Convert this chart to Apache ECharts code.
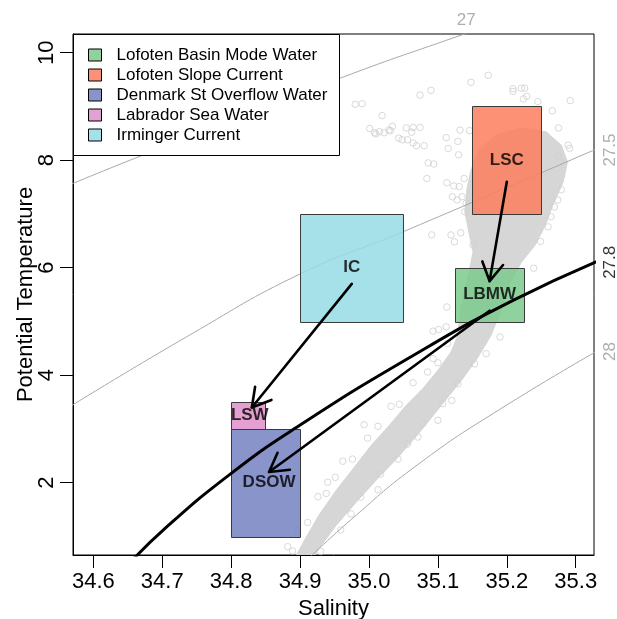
<!DOCTYPE html>
<html>
<head>
<meta charset="utf-8">
<script src="https://cdn.jsdelivr.net/npm/echarts@6/dist/echarts.min.js"></script>
<style>
  html, body { margin: 0; padding: 0; background: #fff; }
  #chart { width: 617px; height: 619px; }
</style>
</head>
<body>
<div id="chart"></div>
<script>
// ---- Data: salinity / potential temperature ----

// Outline of the dense cloud of CTD samples
const profileCore = [
  [34.895, 0.66], [34.906, 0.92], [34.927, 1.39], [34.952, 1.85], [34.977, 2.26],
  [35.003, 2.69], [35.029, 3.06], [35.054, 3.44], [35.078, 3.75], [35.100, 4.09],
  [35.119, 4.43], [35.129, 4.74], [35.132, 5.12], [35.137, 5.49], [35.145, 5.92],
  [35.151, 6.29], [35.145, 6.66], [35.139, 7.04], [35.142, 7.45], [35.148, 7.82],
  [35.160, 8.19], [35.184, 8.47], [35.221, 8.60], [35.257, 8.53], [35.279, 8.28],
  [35.288, 7.97], [35.282, 7.60], [35.267, 7.17], [35.256, 6.79], [35.241, 6.42],
  [35.221, 6.10], [35.203, 5.67], [35.192, 5.21], [35.177, 4.74], [35.157, 4.31],
  [35.134, 3.90], [35.105, 3.44], [35.073, 2.93], [35.044, 2.50], [35.010, 2.04],
  [34.981, 1.63], [34.952, 1.20], [34.927, 0.77], [34.922, 0.66]
];

// Individual samples around the edges of the cloud
const profilePoints = [
  [34.980, 9.04], [34.990, 9.05], [35.019, 8.83], [35.074, 9.21], [35.090, 9.30],
  [35.148, 9.45], [35.173, 9.58], [35.001, 8.59], [35.008, 8.51], [35.010, 8.49],
  [35.015, 8.53], [35.022, 8.51], [35.029, 8.56], [35.034, 8.63], [35.031, 8.55],
  [35.054, 8.60], [35.064, 8.61], [35.074, 8.61], [35.062, 8.52], [35.043, 8.41],
  [35.048, 8.38], [35.056, 8.38], [35.064, 8.32], [35.069, 8.27], [35.080, 8.27],
  [35.086, 7.95], [35.094, 7.93], [35.084, 7.66], [35.112, 8.42], [35.115, 8.22],
  [35.129, 8.35], [35.130, 8.10], [35.132, 8.56], [35.146, 8.55], [35.113, 7.58],
  [35.123, 7.52], [35.131, 7.51], [35.138, 7.66], [35.121, 7.32], [35.128, 7.26],
  [35.135, 7.32], [35.141, 7.20], [35.139, 7.04], [35.209, 9.33], [35.209, 9.28],
  [35.221, 9.34], [35.226, 9.34], [35.224, 9.14], [35.229, 9.19], [35.245, 9.09],
  [35.266, 8.92], [35.292, 9.11], [35.275, 8.60], [35.289, 8.28], [35.091, 6.61],
  [35.119, 6.61], [35.133, 6.65], [35.124, 6.48], [35.151, 6.42], [35.249, 6.49],
  [35.239, 5.99], [35.113, 5.27], [35.093, 4.82], [35.101, 4.85], [35.112, 4.90],
  [35.291, 8.22], [35.274, 8.07], [35.279, 7.45], [35.274, 7.26], [35.269, 7.13],
  [35.264, 6.95], [35.260, 6.76],
  [34.882, 0.81], [34.889, 0.73], [34.896, 1.11], [34.911, 1.26], [34.926, 1.74],
  [34.938, 1.80], [34.940, 2.01], [34.951, 2.10], [34.962, 2.40], [34.976, 2.44],
  [34.993, 3.08], [34.998, 2.83], [35.013, 3.05], [35.032, 3.42], [35.044, 3.46],
  [35.064, 3.86], [35.085, 4.06], [35.093, 4.31], [35.100, 4.23], [35.114, 4.59],
  [34.930, 0.72], [34.959, 1.12], [34.974, 1.42], [34.988, 1.73], [35.013, 1.87],
  [35.017, 2.16], [35.042, 2.44], [35.056, 2.72], [35.071, 2.85], [35.100, 3.16],
  [35.107, 3.47], [35.129, 3.84], [35.153, 4.21], [35.170, 4.40], [35.190, 4.71],
  [35.120, 3.53], [35.078, 3.10]
];

// Potential density (sigma-theta) contours
const sigma27   = [[34.55, 7.46], [34.669, 8.08], [34.959, 9.53], [35.141, 10.36], [35.20, 10.62]];
const sigma275  = [[34.55, 3.29], [34.7415, 4.76], [34.901, 5.89], [35.046, 6.65], [35.35, 8.32]];
const sigma278  = [[34.648, 0.44], [34.7033, 1.14], [34.7996, 2.17], [34.895, 3.03], [35.0566, 4.31], [35.2105, 5.40], [35.35, 6.22]];
const sigma28   = [[34.90, 0.44], [34.9738, 1.31], [35.0711, 2.34], [35.1917, 3.38], [35.35, 4.59]];

const contourNames = ['27', '27.5', '27.8', '28'];
const contourLabelS = [35.141, 35.35, 35.35, 35.35];
const contourLabelT = [10.61, 8.19, 6.10, 4.44];

// Water-mass boxes: salinity range and temperature range
const massNames = ['Lofoten Basin Mode Water', 'Lofoten Slope Current', 'Denmark St Overflow Water', 'Labrador Sea Water', 'Irminger Current'];
const massAbbr  = ['LBMW', 'LSC', 'DSOW', 'LSW', 'IC'];
const massSmin  = [35.125, 35.15, 34.80, 34.80, 34.90];
const massSmax  = [35.225, 35.25, 34.90, 34.85, 35.05];
const massTmin  = [5.0, 7.0, 1.0, 3.0, 5.0];
const massTmax  = [6.0, 9.0, 3.0, 3.5, 7.0];
const massLabelS = [35.175, 35.20, 34.855, 34.827, 34.975];
const massLabelT = [5.50, 8.00, 2.00, 3.26, 6.00];

// Pathways: from (S, T) to (S, T)
const pathways = [
  [35.200, 7.60, 35.175, 5.75],
  [34.975, 5.70, 34.830, 3.40],
  [35.175, 5.20, 34.855, 2.20]
];

const xTicks = [34.6, 34.7, 34.8, 34.9, 35.0, 35.1, 35.2, 35.3];
const yTicks = [2, 4, 6, 8, 10];

// ---- Styles ----
const FONT = '"Liberation Sans", Arial, Helvetica, sans-serif';
const massColors = [
  'rgba(123,202,141,0.85)',
  'rgba(252,126,93,0.85)',
  'rgba(116,129,194,0.85)',
  'rgba(223,143,200,0.85)',
  'rgba(150,220,230,0.85)'
];
const cloudGray = '#d6d6d6';
const contourGray = '#a9a9a9';

const chart = echarts.init(document.getElementById('chart'), null, { renderer: 'canvas' });

function renderCore(params, api) {
  if (params.dataIndex !== 0) return null;
  const pts = profileCore.map(p => api.coord(p));
  return { type: 'polygon', shape: { points: pts }, style: { fill: cloudGray, stroke: cloudGray, lineWidth: 1 } };
}

function renderBox(params, api) {
  const tl = api.coord([api.value(0), api.value(3)]);
  const br = api.coord([api.value(1), api.value(2)]);
  return {
    type: 'rect',
    shape: { x: Math.round(tl[0]) + 0.5, y: Math.round(tl[1]) + 0.5,
             width: Math.round(br[0] - tl[0]), height: Math.round(br[1] - tl[1]) },
    style: { fill: api.visual('color'), stroke: '#3a3a3a', lineWidth: 1 }
  };
}

function renderArrow(params, api) {
  const a = api.coord([api.value(0), api.value(1)]);
  const b = api.coord([api.value(2), api.value(3)]);
  const ang = Math.atan2(b[1] - a[1], b[0] - a[0]);
  const L = 21, spread = Math.PI / 6;
  const w1 = [b[0] - L * Math.cos(ang - spread), b[1] - L * Math.sin(ang - spread)];
  const w2 = [b[0] - L * Math.cos(ang + spread), b[1] - L * Math.sin(ang + spread)];
  const st = { stroke: '#000', lineWidth: 2.6, fill: 'none', lineCap: 'round', lineJoin: 'round' };
  return {
    type: 'group',
    children: [
      { type: 'line', shape: { x1: a[0], y1: a[1], x2: b[0], y2: b[1] }, style: st },
      { type: 'polyline', shape: { points: [w1, b, w2] }, style: st }
    ]
  };
}

function contourLine(name, data, color, width, z) {
  return {
    type: 'line', name: name, data: data, z: z,
    showSymbol: false, symbol: 'none', smooth: 0.5,
    lineStyle: { color: color, width: width }, silent: true, clip: true
  };
}

const boxSeries = massNames.map((name, i) => ({
  type: 'custom',
  name: name,
  z: 4,
  renderItem: renderBox,
  itemStyle: { color: massColors[i] },
  encode: { x: [0, 1], y: [2, 3] },
  data: [[massSmin[i], massSmax[i], massTmin[i], massTmax[i]]],
  silent: true
}));

const contourLabelData = contourNames.map((n, i) => ({
  value: [contourLabelS[i], contourLabelT[i]],
  name: n,
  label: {
    rotate: i === 0 ? 0 : 90,
    color: n === '27.8' ? '#000' : '#9a9a9a'
  }
}));

const option = {
  animation: false,
  backgroundColor: '#fff',
  textStyle: { fontFamily: FONT },
  grid: {
    left: 73, right: 23, top: 34, bottom: 64,
    containLabel: false, outerBoundsMode: 'none',
    show: true, borderColor: '#000', borderWidth: 1, backgroundColor: 'transparent'
  },
  xAxis: {
    type: 'value', min: 34.5705, max: 35.3265,
    name: 'Salinity', nameLocation: 'middle', nameGap: 43,
    nameTextStyle: { fontSize: 22, color: '#000', fontFamily: FONT },
    splitLine: { show: false },
    axisLine: { show: true, onZero: false, lineStyle: { color: '#000', width: 1 } },
    axisTick: { show: true, customValues: xTicks, length: 13, lineStyle: { color: '#000', width: 1 } },
    axisLabel: { customValues: xTicks, formatter: v => v.toFixed(1), fontSize: 22, color: '#000', margin: 16, fontFamily: FONT }
  },
  yAxis: {
    type: 'value', min: 0.655, max: 10.348,
    name: 'Potential Temperature', nameLocation: 'middle', nameGap: 36, nameRotate: 90,
    nameMoveOverlap: false,
    nameTextStyle: { fontSize: 22, color: '#000', fontFamily: FONT },
    splitLine: { show: false },
    axisLine: { show: true, onZero: false, lineStyle: { color: '#000', width: 1 } },
    axisTick: { show: true, customValues: yTicks, length: 13, lineStyle: { color: '#000', width: 1 } },
    axisLabel: { customValues: yTicks, rotate: 90, fontSize: 22, color: '#000', margin: 15, fontFamily: FONT }
  },
  legend: {
    orient: 'vertical', left: 88, top: 45, padding: 0,
    itemWidth: 13, itemHeight: 12, itemGap: 0, icon: 'rect',
    selectedMode: false, z: 8,
    data: massNames,
    itemStyle: { borderColor: '#000', borderWidth: 1 },
    textStyle: { fontSize: 17, color: '#000', lineHeight: 20, padding: [0, 0, 0, 10], fontFamily: FONT }
  },
  graphic: [{
    type: 'rect', z: 7, silent: true,
    shape: { x: 73.5, y: 34.5, width: 266, height: 121 },
    style: { fill: '#fff', stroke: '#000', lineWidth: 1 }
  }],
  series: [
    {
      type: 'custom', name: 'core', z: 1, renderItem: renderCore, clip: true,
      data: profileCore, silent: true
    },
    {
      type: 'scatter', name: 'samples', z: 1, data: profilePoints,
      symbol: 'circle', symbolSize: 6.5, silent: true,
      itemStyle: { color: 'rgba(255,255,255,0)', borderColor: '#cfcfcf', borderWidth: 1 }
    },
    contourLine('σθ 27', sigma27, contourGray, 1, 2),
    contourLine('σθ 27.5', sigma275, contourGray, 1, 2),
    contourLine('σθ 28', sigma28, contourGray, 1, 2),
    ...boxSeries,
    contourLine('σθ 27.8', sigma278, '#000', 3, 5),
    {
      type: 'custom', name: 'pathways', z: 6, renderItem: renderArrow,
      encode: { x: [0, 2], y: [1, 3] }, data: pathways, silent: true
    },
    {
      type: 'scatter', name: 'mass labels', z: 7, symbolSize: 0, silent: true,
      data: massAbbr.map((n, i) => ({ value: [massLabelS[i], massLabelT[i]], name: n })),
      label: { show: true, position: 'inside', formatter: p => p.name,
               fontSize: 17, fontWeight: 'bold', color: '#000', fontFamily: FONT }
    },
    {
      type: 'scatter', name: 'contour labels', z: 7, symbolSize: 0, silent: true, clip: false,
      data: contourLabelData,
      label: { show: true, position: 'inside', formatter: p => p.name,
               fontSize: 17, fontFamily: FONT }
    }
  ]
};

chart.setOption(option);
</script>
</body>
</html>
